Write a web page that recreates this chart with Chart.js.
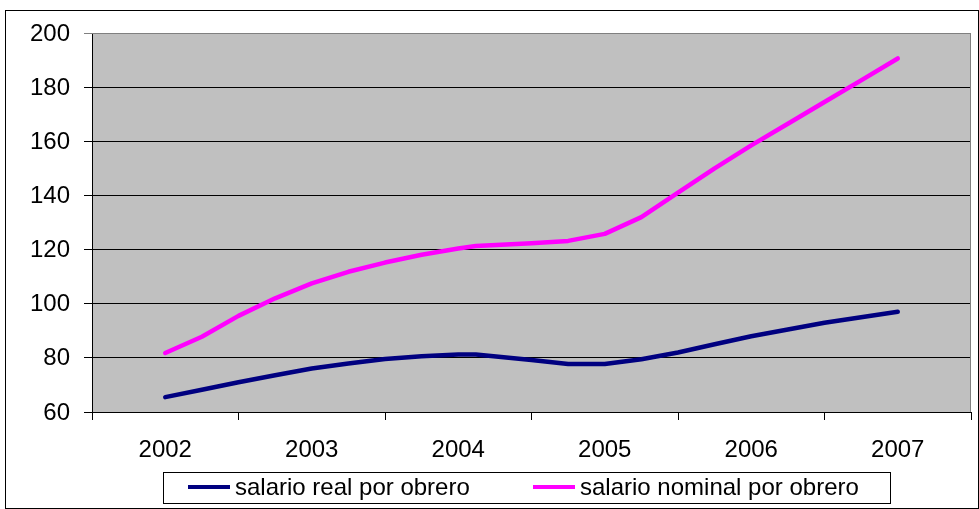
<!DOCTYPE html>
<html>
<head>
<meta charset="utf-8">
<script src="https://cdn.jsdelivr.net/npm/chart.js@4.4.1/dist/chart.umd.min.js"></script>
<style>
  html, body { margin: 0; padding: 0; background: #fff; }
  #wrap { width: 979px; height: 509px; position: relative; }
</style>
</head>
<body>
<div id="wrap"><canvas id="salarios"></canvas></div>
<script>
// year labels on the category axis
const years = ["2002", "2003", "2004", "2005", "2006", "2007"];
const periods = [2002, 2002.25, 2002.5, 2002.75, 2003, 2003.25, 2003.5, 2003.75, 2004, 2004.12,
  2004.5, 2004.75, 2005, 2005.25, 2005.5, 2005.75, 2006, 2006.25, 2006.5, 2006.75, 2007];
const salarioReal = [65.5, 68.2, 71, 73.6, 76.1, 77.9, 79.6, 80.6, 81.2, 81.2,
  79.2, 77.7, 77.7, 79.5, 82, 85, 88, 90.5, 93, 95, 97];
const salarioNominal = [81.8, 87.8, 95.5, 102, 107.5, 111.8, 115.2, 118.1, 120.4, 121.3,
  122.3, 123.2, 125.8, 132, 141, 150, 158.5, 166.5, 174.5, 182.5, 190.6];
const yTicks = [60, 80, 100, 120, 140, 160, 180, 200];

const FONT = { family: "Liberation Sans", size: 24 };

const toPoints = (vals) => periods.map((p, i) => ({ x: p, y: vals[i] }));

const frame = {
  id: "frame",
  beforeDraw(chart) {
    const { ctx, chartArea: a } = chart;
    ctx.save();
    ctx.fillStyle = "#fff";
    ctx.fillRect(0, 0, chart.width, chart.height);
    ctx.fillStyle = "#c0c0c0";
    ctx.fillRect(a.left, a.top, a.right - a.left, a.bottom - a.top);
    ctx.restore();
  },
  afterDraw(chart) {
    const { ctx, chartArea: a } = chart;
    ctx.save();
    // plot area border (top / right)
    ctx.strokeStyle = "#808080";
    ctx.lineWidth = 1;
    ctx.beginPath();
    ctx.moveTo(a.left, a.top + 0.5);
    ctx.lineTo(a.right - 0.5, a.top + 0.5);
    ctx.lineTo(a.right - 0.5, a.bottom);
    ctx.stroke();
    // outer chart border
    ctx.strokeStyle = "#000";
    ctx.strokeRect(5.5, 10.5, 973, 498);

    // legend
    ctx.fillStyle = "#fff";
    ctx.fillRect(163.5, 472.5, 727, 31);
    ctx.strokeRect(163.5, 472.5, 727, 31);
    ctx.font = `${FONT.size}px "${FONT.family}"`;
    ctx.textBaseline = "middle";
    ctx.textAlign = "left";
    const starts = [188, 533];
    const y = 487;
    chart.data.datasets.forEach((ds, i) => {
      const x = starts[i];
      ctx.strokeStyle = ds.borderColor;
      ctx.lineWidth = 4;
      ctx.beginPath();
      ctx.moveTo(x, y);
      ctx.lineTo(x + 42, y);
      ctx.stroke();
      ctx.fillStyle = "#000";
      ctx.fillText(ds.label, x + 47, y + 1);
    });
    ctx.restore();
  }
};

new Chart(document.getElementById("salarios"), {
  type: "line",
  data: {
    labels: years,
    datasets: [
      {
        label: "salario real por obrero",
        data: toPoints(salarioReal),
        xAxisID: "t",
        borderColor: "#000080",
        borderWidth: 4.5,
        borderCapStyle: "round",
        borderJoinStyle: "round",
        pointRadius: 0,
        tension: 0,
      },
      {
        label: "salario nominal por obrero",
        data: toPoints(salarioNominal),
        xAxisID: "t",
        borderColor: "#ff00ff",
        borderWidth: 4.5,
        borderCapStyle: "round",
        borderJoinStyle: "round",
        pointRadius: 0,
        tension: 0,
      },
    ],
  },
  options: {
    responsive: true,
    maintainAspectRatio: false,
    animation: false,
    layout: { padding: { left: 0, top: 33, right: 8, bottom: 0 } },
    plugins: { legend: { display: false }, tooltip: { enabled: false } },
    scales: {
      x: {
        type: "category",
        offset: true,
        afterFit: (s) => { s.height = 97; },
        ticks: { color: "#000", font: FONT, padding: 16, maxRotation: 0 },
        grid: { offset: true, drawOnChartArea: false, tickLength: 8, color: "#000" },
        border: { color: "#000" },
      },
      t: {
        type: "linear",
        display: false,
        min: 2001.5,
        max: 2007.5,
      },
      y: {
        min: 60,
        max: 200,
        afterFit: (s) => { s.width = 92; },
        afterBuildTicks: (s) => { s.ticks = yTicks.map((v) => ({ value: v })); },
        ticks: { color: "#000", font: FONT, padding: 14, labelOffset: 1 },
        grid: {
          tickLength: 8,
          color: (c) => (c.tick && c.tick.value === 200 ? "#808080" : "#000"),
        },
        border: { color: "#000" },
      },
    },
  },
  plugins: [frame],
});
</script>
</body>
</html>
